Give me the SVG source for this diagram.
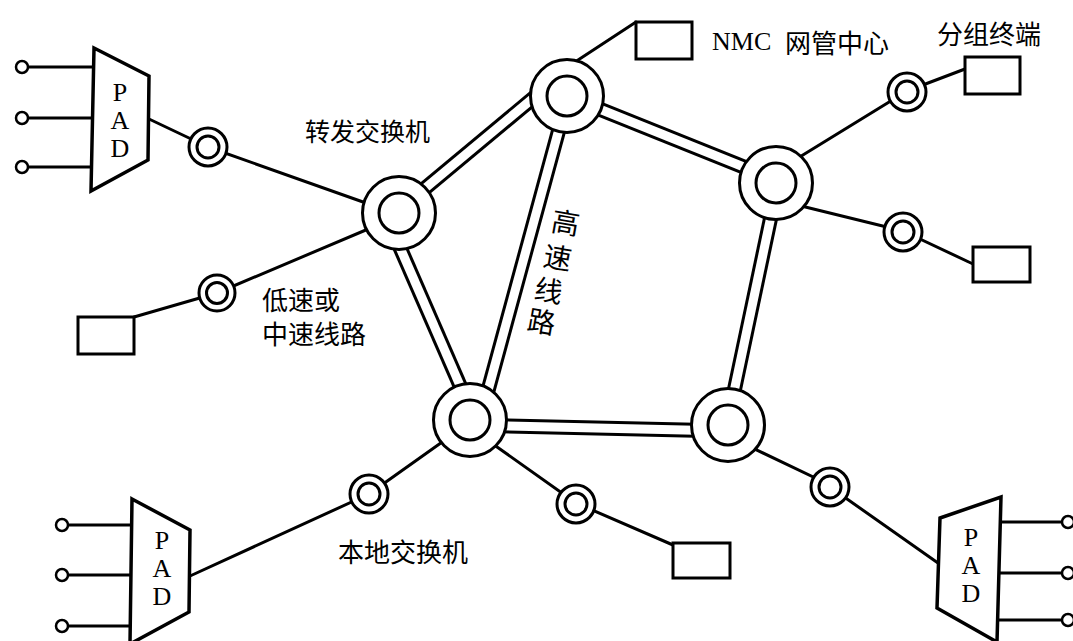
<svg xmlns="http://www.w3.org/2000/svg" width="1073" height="641" viewBox="0 0 1073 641">
<style>
.ln{stroke:#000;stroke-width:3;fill:none;stroke-linecap:round}
.hb{stroke:#000;stroke-width:15;fill:none}
.hw{stroke:#fff;stroke-width:9;fill:none}
.ring{stroke:#000;stroke-width:3;fill:#fff}
.inner{stroke:#000;stroke-width:3;fill:none}
.term{stroke:#000;stroke-width:3;fill:#fff}
.pad{stroke:#000;stroke-width:3.5;fill:#fff;stroke-linejoin:miter}
.port{stroke:#000;stroke-width:2.5;fill:#fff}
.lat{font-family:"Liberation Serif","Times New Roman",serif;font-size:26px;fill:#000;text-anchor:middle}
.cjk{font-family:"Noto Sans CJK SC","Noto Sans",sans-serif;font-size:26px;fill:#000;dominant-baseline:central}
</style>
<rect width="1073" height="641" fill="#fff"/>
<g id="connectors">
  <line class="ln" x1="28" y1="67" x2="92" y2="67"/>
  <line class="ln" x1="28" y1="118" x2="92" y2="118"/>
  <line class="ln" x1="28" y1="167" x2="92" y2="167"/>
  <line class="ln" x1="149" y1="119" x2="208" y2="147"/>
  <line class="ln" x1="208" y1="147" x2="380" y2="208"/>
  <line class="ln" x1="217" y1="293" x2="380" y2="224"/>
  <line class="ln" x1="134" y1="317" x2="217" y2="293"/>
  <line class="ln" x1="575" y1="62" x2="636" y2="22"/>
  <line class="ln" x1="785" y1="166" x2="907" y2="91"/>
  <line class="ln" x1="907" y1="91" x2="965" y2="69"/>
  <line class="ln" x1="785" y1="202" x2="903" y2="231"/>
  <line class="ln" x1="903" y1="231" x2="973" y2="264"/>
  <line class="ln" x1="68" y1="525" x2="130" y2="525"/>
  <line class="ln" x1="68" y1="575" x2="130" y2="575"/>
  <line class="ln" x1="68" y1="626" x2="130" y2="626"/>
  <line class="ln" x1="190" y1="576" x2="369" y2="494"/>
  <line class="ln" x1="369" y1="494" x2="445" y2="440"/>
  <line class="ln" x1="490" y1="442" x2="576" y2="503"/>
  <line class="ln" x1="576" y1="503" x2="673" y2="545"/>
  <line class="ln" x1="740" y1="442" x2="830" y2="485"/>
  <line class="ln" x1="830" y1="487" x2="938" y2="563"/>
  <line class="ln" x1="1000" y1="522" x2="1062" y2="522"/>
  <line class="ln" x1="999" y1="573" x2="1062" y2="573"/>
  <line class="ln" x1="998" y1="620" x2="1062" y2="620"/>
  <g id="highspeed">
    <line class="hb" x1="405" y1="205" x2="555" y2="80"/>
    <line class="hb" x1="385" y1="213" x2="475" y2="420"/>
    <line class="hb" x1="568" y1="96" x2="480" y2="420"/>
    <line class="hb" x1="567" y1="96" x2="776" y2="180"/>
    <line class="hb" x1="778" y1="183" x2="727" y2="425"/>
    <line class="hb" x1="470" y1="425" x2="728" y2="431"/>
    <line class="hw" x1="405" y1="205" x2="555" y2="80"/>
    <line class="hw" x1="385" y1="213" x2="475" y2="420"/>
    <line class="hw" x1="568" y1="96" x2="480" y2="420"/>
    <line class="hw" x1="567" y1="96" x2="776" y2="180"/>
    <line class="hw" x1="778" y1="183" x2="727" y2="425"/>
    <line class="hw" x1="470" y1="425" x2="728" y2="431"/>
  </g>
</g>
<g id="pad-tl">
  <circle class="port" cx="22" cy="67" r="6"/>
  <circle class="port" cx="22" cy="118" r="6"/>
  <circle class="port" cx="22" cy="167" r="6"/>
  <polygon class="pad" points="94,48 149,76 148,160 91,191"/>
  <text class="lat"><tspan x="120" y="101">P</tspan><tspan x="120" y="129">A</tspan><tspan x="120" y="157">D</tspan></text>
</g>
<g id="pad-bl">
  <circle class="port" cx="62" cy="525" r="6"/>
  <circle class="port" cx="62" cy="575" r="6"/>
  <circle class="port" cx="62" cy="626" r="6"/>
  <polygon class="pad" points="132,499 190,530 189,612 130,644"/>
  <text class="lat"><tspan x="162" y="549">P</tspan><tspan x="162" y="577">A</tspan><tspan x="162" y="605">D</tspan></text>
</g>
<g id="pad-br">
  <circle class="port" cx="1068" cy="522" r="6"/>
  <circle class="port" cx="1068" cy="573" r="6"/>
  <circle class="port" cx="1068" cy="620" r="6"/>
  <polygon class="pad" points="940,518 1001,497 997,642 937,608"/>
  <text class="lat"><tspan x="971" y="546">P</tspan><tspan x="971" y="574">A</tspan><tspan x="971" y="602">D</tspan></text>
</g>
<g id="sw-left"><circle class="ring" cx="399" cy="213" r="36.5"/><circle class="inner" cx="399" cy="213" r="20"/></g>
<g id="sw-top"><circle class="ring" cx="567" cy="96" r="36.5"/><circle class="inner" cx="567" cy="96" r="20"/></g>
<g id="sw-right"><circle class="ring" cx="776" cy="183" r="36.5"/><circle class="inner" cx="776" cy="183" r="20"/></g>
<g id="sw-bottom"><circle class="ring" cx="470" cy="420" r="36.5"/><circle class="inner" cx="470" cy="420" r="20"/></g>
<g id="sw-bottom-right"><circle class="ring" cx="728" cy="425" r="36.5"/><circle class="inner" cx="728" cy="425" r="20"/></g>
<g id="ring-a"><circle class="ring" cx="208" cy="147" r="19"/><circle class="inner" cx="208" cy="147" r="11"/></g>
<g id="ring-b"><circle class="ring" cx="217" cy="293" r="18"/><circle class="inner" cx="217" cy="293" r="10.5"/></g>
<g id="ring-c"><circle class="ring" cx="907" cy="92" r="19"/><circle class="inner" cx="907" cy="92" r="11"/></g>
<g id="ring-d"><circle class="ring" cx="903" cy="232" r="19"/><circle class="inner" cx="903" cy="232" r="11"/></g>
<g id="ring-e"><circle class="ring" cx="369" cy="494" r="19"/><circle class="inner" cx="369" cy="494" r="11"/></g>
<g id="ring-f"><circle class="ring" cx="576" cy="504" r="19"/><circle class="inner" cx="576" cy="504" r="11"/></g>
<g id="ring-g"><circle class="ring" cx="830" cy="487" r="19"/><circle class="inner" cx="830" cy="487" r="11"/></g>
<g id="term-nmc"><rect class="term" x="636" y="22" width="56" height="37"/></g>
<g id="term-tr"><rect class="term" x="965" y="57" width="55" height="37"/></g>
<g id="term-r"><rect class="term" x="973" y="247" width="57" height="35"/></g>
<g id="term-b"><rect class="term" x="673" y="543" width="57" height="35"/></g>
<g id="term-l"><rect class="term" x="78" y="317" width="56" height="37"/></g>
<g id="labels">
  <text class="cjk" x="305" y="130" style="font-size:25px">转发交换机</text>
  <text x="712" y="50" style="font-family:'Liberation Serif','Times New Roman',serif;font-size:26px">NMC</text>
  <text class="cjk" x="785" y="41">网管中心</text>
  <text class="cjk" x="937" y="32">分组终端</text>
  <text class="cjk" x="262" y="298">低速或</text>
  <text class="cjk" x="262" y="332">中速线路</text>
  <text class="cjk" x="338" y="550">本地交换机</text>
  <text class="cjk" x="566" y="221" text-anchor="middle" style="font-size:28px" transform="rotate(10 566 221)">高</text>
  <text class="cjk" x="558" y="256" text-anchor="middle" style="font-size:28px" transform="rotate(10 558 256)">速</text>
  <text class="cjk" x="549" y="289" text-anchor="middle" style="font-size:28px" transform="rotate(10 549 289)">线</text>
  <text class="cjk" x="542" y="320" text-anchor="middle" style="font-size:28px" transform="rotate(10 542 320)">路</text>
</g>
</svg>
